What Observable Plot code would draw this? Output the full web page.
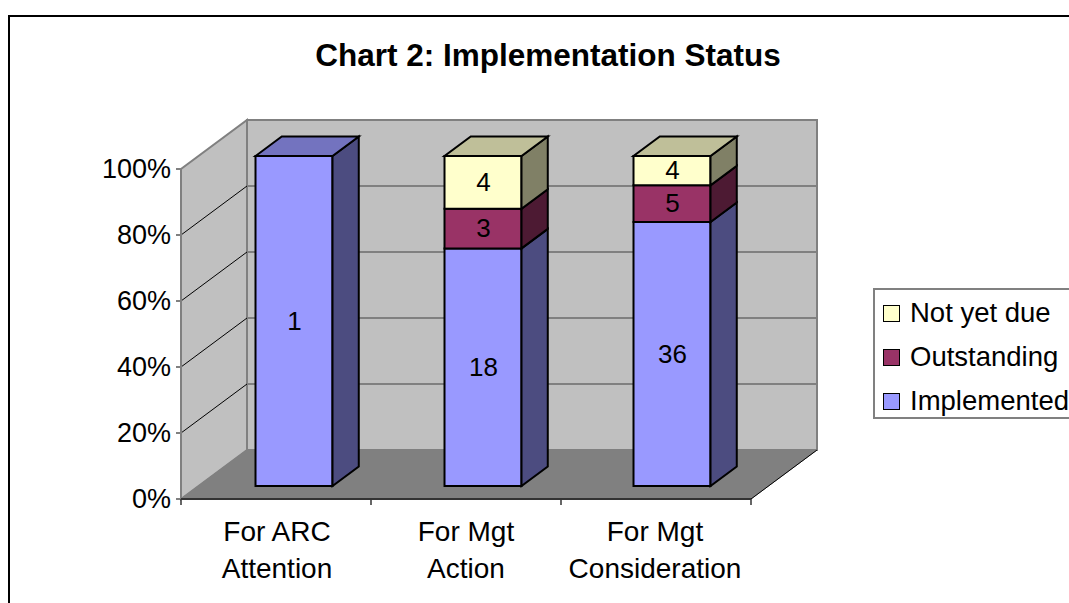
<!DOCTYPE html>
<html>
<head>
<meta charset="utf-8">
<script src="https://cdn.jsdelivr.net/npm/d3@7"></script>
<script src="https://cdn.jsdelivr.net/npm/@observablehq/plot@0.6"></script>
<style>
  html, body { margin: 0; padding: 0; width: 1069px; height: 603px; overflow: hidden; background: #fff; }
  #frame { position: absolute; left: 8px; top: 15px; width: 1200px; height: 800px; border: 2px solid #000; box-sizing: border-box; }
  #chart { position: absolute; left: 0; top: 0; }
  #legend { position: absolute; left: 873px; top: 288px; width: 260px; height: 131px; border: 2px solid #808080; box-sizing: border-box;
            font-family: "Liberation Sans", Arial, sans-serif; font-size: 27.5px; color: #000; }
  .item { position: absolute; left: 8px; height: 30px; display: flex; align-items: center; white-space: nowrap; }
  .sw { width: 15px; height: 15px; border: 1.5px solid #000; margin-right: 10px; }
</style>
</head>
<body>
<div id="frame"></div>
<div id="chart"></div>
<div id="legend"></div>
<script>
// ---- data ----
const categories = ["For ARC\nAttention", "For Mgt\nAction", "For Mgt\nConsideration"];
const seriesNames = ["Implemented", "Outstanding", "Not yet due"];
const implemented = [1, 18, 36];
const outstanding = [0, 3, 5];
const notYetDue = [0, 4, 4];
const yTicks = [0, 0.2, 0.4, 0.6, 0.8, 1];
const yTickLabels = ["0%", "20%", "40%", "60%", "80%", "100%"];
const titleText = "Chart 2: Implementation Status";

// ---- styles ----
const frontColors = ["#9999FF", "#993366", "#FFFFCC"];
const sideColors = ["#4C4C80", "#4D1A33", "#808066"];
const topColors = ["#7373BF", "#732650", "#BFBF99"];
const DX = 66, DY = -49;          // full depth offset of the 3D box
const F0 = 13 / 49, F1 = 32.5 / 49; // bar front / back depth fractions
const font = "'Liberation Sans', Arial, sans-serif";

// ---- build stacked rows ----
const seriesValues = [implemented, outstanding, notYetDue];
const rows = [];
categories.forEach((cat, i) => {
  const total = seriesValues.reduce((s, arr) => s + arr[i], 0);
  let cum = 0;
  const catRows = [];
  seriesValues.forEach((arr, s) => {
    const v = arr[i];
    if (v > 0) {
      catRows.push({cat, series: seriesNames[s], s, value: v, y1: cum / total, y2: (cum + v) / total, top: false});
      cum += v;
    }
  });
  catRows[catRows.length - 1].top = true;
  rows.push(...catRows);
});

function poly(g, pts, fill, stroke, sw) {
  g.append("polygon").attr("points", pts.map(p => p.join(",")).join(" "))
    .attr("fill", fill).attr("stroke", stroke).attr("stroke-width", sw).attr("stroke-linejoin", "miter");
}

// walls, floor, gridlines, axis
function walls(index, scales) {
  const x = scales.x, y = scales.y;
  const [x0, x1] = x.range();
  const g = d3.create("svg:g");
  const y0 = y(0), yTop = y(1);
  poly(g, [[x0, y0], [x0, yTop], [x0 + DX, yTop + DY], [x0 + DX, y0 + DY]], "#C0C0C0", "#808080", 2);
  poly(g, [[x0 + DX, yTop + DY], [x1 + DX, yTop + DY], [x1 + DX, y0 + DY], [x0 + DX, y0 + DY]], "#C0C0C0", "#808080", 2);
  yTicks.filter(t => t > 0 && t < 1).forEach(t => {
    g.append("line").attr("x1", x0 + DX).attr("x2", x1 + DX).attr("y1", y(t) + DY).attr("y2", y(t) + DY)
      .attr("stroke", "#808080").attr("stroke-width", 2);
    g.append("line").attr("x1", x0).attr("x2", x0 + DX).attr("y1", y(t)).attr("y2", y(t) + DY)
      .attr("stroke", "#000").attr("stroke-width", 1);
  });
  poly(g, [[x0, y0], [x1, y0], [x1 + DX, y0 + DY], [x0 + DX, y0 + DY]], "#808080", "#808080", 1);
  g.append("line").attr("x1", x1).attr("y1", y0).attr("x2", x1 + DX).attr("y2", y0 + DY).attr("stroke", "#000").attr("stroke-width", 1);
  g.append("line").attr("x1", x0).attr("x2", x0).attr("y1", y0).attr("y2", yTop).attr("stroke", "#808080").attr("stroke-width", 2);
  g.append("line").attr("x1", x0).attr("x2", x1).attr("y1", y0).attr("y2", y0).attr("stroke", "#333").attr("stroke-width", 2);
  yTicks.forEach((t, i) => {
    g.append("line").attr("x1", x0 - 5).attr("x2", x0).attr("y1", y(t)).attr("y2", y(t)).attr("stroke", "#808080").attr("stroke-width", 2);
    g.append("text").attr("x", x0 - 10).attr("y", y(t)).attr("dy", "0.34em").attr("text-anchor", "end")
      .attr("font-family", font).attr("font-size", 27).attr("fill", "#000").text(yTickLabels[i]);
  });
  const n = categories.length;
  for (let i = 0; i <= n; i++) {
    const xx = x0 + i * (x1 - x0) / n;
    g.append("line").attr("x1", xx).attr("x2", xx).attr("y1", y0).attr("y2", y0 + 6).attr("stroke", "#333").attr("stroke-width", 1.5);
  }
  return g.node();
}

// 3D bars
function bars(index, scales) {
  const x = scales.x, y = scales.y;
  const bw = x.bandwidth();
  const g = d3.create("svg:g");
  const fx0 = DX * F0, fy0 = DY * F0;
  const ddx = DX * (F1 - F0), ddy = DY * (F1 - F0);
  rows.forEach(r => {
    const xl = x(r.cat) + fx0, xr = xl + bw;
    const yb = y(r.y1) + fy0, yt = y(r.y2) + fy0;
    poly(g, [[xl, yb], [xl, yt], [xr, yt], [xr, yb]], frontColors[r.s], "#000", 2);
    poly(g, [[xr, yb], [xr, yt], [xr + ddx, yt + ddy], [xr + ddx, yb + ddy]], sideColors[r.s], "#000", 2);
    if (r.top) poly(g, [[xl, yt], [xr, yt], [xr + ddx, yt + ddy], [xl + ddx, yt + ddy]], topColors[r.s], "#000", 2);
  });
  return g.node();
}

const plot = Plot.plot({
  width: 1069,
  height: 603,
  marginLeft: 0, marginRight: 0, marginTop: 0, marginBottom: 0,
  x: {type: "band", domain: categories, range: [181, 751], paddingInner: 0.59, paddingOuter: 0.3, axis: null},
  y: {domain: [0, 1], range: [499, 169], axis: null},
  style: {background: "transparent", fontFamily: font, overflow: "visible"},
  marks: [
    walls,
    bars,
    Plot.text(rows, {
      x: "cat", y: d => (d.y1 + d.y2) / 2, text: d => String(d.value),
      dx: DX * F0, dy: DY * F0, fontSize: 26, fill: "#000"
    }),
    Plot.text(categories, {
      x: d => d, y: () => 0, text: d => d, lineAnchor: "top", dy: 15, lineHeight: 1.32,
      fontSize: 28, fill: "#000"
    }),
    Plot.text([titleText], {
      frameAnchor: "top", text: d => d, lineAnchor: "top", dx: 13, dy: 43, fontSize: 31.5, fontWeight: "bold", fill: "#000"
    })
  ]
});
document.getElementById("chart").appendChild(plot);

// legend (top to bottom: reverse stack order)
const legend = document.getElementById("legend");
const order = [2, 1, 0];
order.forEach((s, k) => {
  const item = document.createElement("div");
  item.className = "item";
  item.style.top = (8 + k * 44) + "px";
  const sw = document.createElement("div");
  sw.className = "sw";
  sw.style.background = frontColors[s];
  const label = document.createElement("span");
  label.textContent = seriesNames[s];
  item.appendChild(sw);
  item.appendChild(label);
  legend.appendChild(item);
});
</script>
</body>
</html>
